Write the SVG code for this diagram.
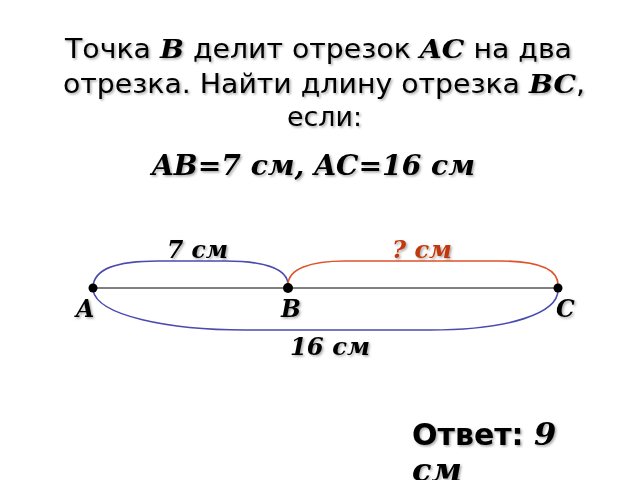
<svg xmlns="http://www.w3.org/2000/svg" width="640" height="480" viewBox="0 0 640 480">
<defs>
<filter id="sh" x="-10%" y="-20%" width="130%" height="150%">
<feDropShadow dx="1.5" dy="1.5" stdDeviation="0.8" flood-color="#000" flood-opacity="0.35"/>
</filter>
</defs>
<style>
.t{font-family:"DejaVu Sans","Noto Sans",sans-serif;font-size:26px;fill:#000}
.bi{font-family:"DejaVu Serif","Liberation Serif",serif;font-weight:bold;font-style:italic}
.lbl{font-family:"DejaVu Serif","Liberation Serif",serif;font-weight:bold;font-style:italic;font-size:23.5px;fill:#000}
.arc{fill:none;stroke-width:1.6}
.dot{fill:#000}
</style>
<rect width="640" height="480" fill="#fff"/>
<g id="title" filter="url(#sh)">
<text class="t" x="65" y="58" textLength="507" lengthAdjust="spacingAndGlyphs">Точка <tspan class="bi">B</tspan> делит отрезок <tspan class="bi">AC</tspan> на два</text>
<text class="t" x="63" y="93" textLength="522" lengthAdjust="spacingAndGlyphs">отрезка. Найти длину отрезка <tspan class="bi">BC</tspan>,</text>
<text class="t" x="287" y="126" textLength="75" lengthAdjust="spacingAndGlyphs">если:</text>
<text class="bi" x="152" y="175" font-size="28" textLength="323" lengthAdjust="spacingAndGlyphs">AB=7 см, AC=16 см</text>
</g>
<g id="connectors">
<line x1="93" y1="288" x2="558" y2="288" stroke="#000" stroke-width="1"/>
<path class="arc" stroke="#4a4ab0" d="M93,288 C93,268 118,261 158,261 L225,261 C265,261 288,269 288,285"/>
<path class="arc" stroke="#e0522a" d="M288,285 C288,269 310,261 345,261 L500,261 C540,261 558,270 558,285"/>
<path class="arc" stroke="#4a4ab0" d="M93,290 C97,316 170,330 245,330 L430,330 C510,330 558,313 558,290"/>
</g>
<g id="pointA"><circle class="dot" cx="93" cy="288" r="4.5"/><text class="lbl" x="76" y="317" font-size="24" filter="url(#sh)">A</text></g>
<g id="pointB"><circle class="dot" cx="288" cy="288" r="5"/><text class="lbl" x="281" y="317" font-size="24" filter="url(#sh)">B</text></g>
<g id="pointC"><circle class="dot" cx="558" cy="288" r="4.5"/><text class="lbl" x="556" y="317" font-size="24" filter="url(#sh)">C</text></g>
<g id="labels" filter="url(#sh)">
<text class="lbl" x="167" y="258" textLength="61" lengthAdjust="spacingAndGlyphs">7 см</text>
<text class="lbl" x="392" y="258" style="fill:#c0390b" textLength="60" lengthAdjust="spacingAndGlyphs">? см</text>
<text class="lbl" x="290" y="355" textLength="80" lengthAdjust="spacingAndGlyphs">16 см</text>
</g>
<g id="answer" filter="url(#sh)">
<text x="412" y="445" font-family="DejaVu Sans,sans-serif" font-weight="bold" font-size="30">Ответ: <tspan class="bi" font-size="32">9</tspan></text>
<text class="bi" x="412" y="481" font-size="32">см</text>
</g>
</svg>
